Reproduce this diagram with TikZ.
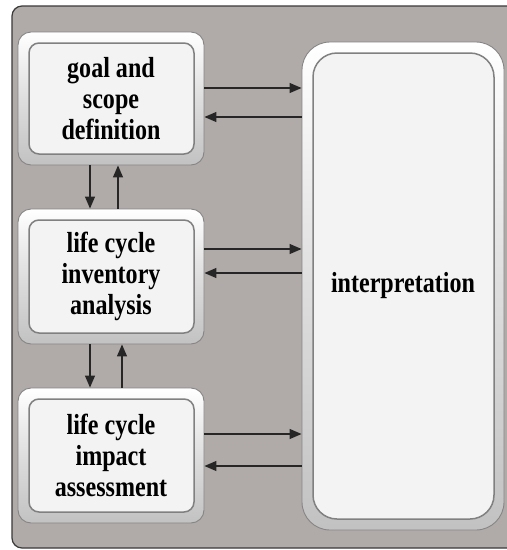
\documentclass[tikz,border=0pt]{standalone}
\usepackage{fontspec}
\setmainfont{Liberation Serif}
\newfontfamily\labfont[FakeStretch=0.83]{Liberation Serif}
\usetikzlibrary{arrows.meta}
\definecolor{bggray}{HTML}{B0ABA9}
\definecolor{innerwhite}{HTML}{F3F3F3}
\definecolor{framedark}{HTML}{3A3A3A}
\tikzset{
  bgframe/.style={fill=bggray, draw=framedark, line width=1.2pt, rounded corners=10pt},
  stage/.style={rounded corners=13pt, minimum width=186pt, minimum height=134pt,
    inner sep=0pt, top color=white, bottom color=black!24, middle color=black!13,
    draw=black!48, line width=0.9pt, align=center,
    font=\labfont\bfseries\fontsize{29}{31}\selectfont},
  bevel/.style={path picture={
    \draw[rounded corners=#1, fill=innerwhite, draw=black!50, line width=1.5pt]
      ([shift={(11pt,-11pt)}]path picture bounding box.north west) rectangle
      ([shift={(-10pt,11pt)}]path picture bounding box.south east);}},
  arr/.style={line width=1.3pt, draw=black!85, -{Triangle[length=12pt,width=10pt]}}
}
\begin{document}
\begin{tikzpicture}[x=1pt,y=-1pt]
\useasboundingbox (0,0) rectangle (507,550);
\clip (0,0) rectangle (507,550);
\fill[white] (0,0) rectangle (507,550);
\path[bgframe] (12,6) rectangle (530,548);

\node[stage, bevel=10pt, minimum height=133pt] (goal) at (111,98.5) {goal and\\scope\\definition};
\node[stage, bevel=10pt, minimum height=135pt] (lci) at (111,276.5) {life cycle\\inventory\\analysis};
\node[stage, bevel=10pt, minimum height=135pt] (lcia) at (111,455.5) {life cycle\\impact\\assessment};
\node[stage, bevel=24pt, rounded corners=28pt, minimum width=202pt, minimum height=488pt] (interp) at (403,286) {interpretation};

\draw[arr] (goal.east |- 0,88) -- (interp.west |- 0,88);
\draw[arr] (interp.west |- 0,117) -- (goal.east |- 0,117);
\draw[arr] (lci.east |- 0,249) -- (interp.west |- 0,249);
\draw[arr] (interp.west |- 0,273) -- (lci.east |- 0,273);
\draw[arr] (lcia.east |- 0,434) -- (interp.west |- 0,434);
\draw[arr] (interp.west |- 0,466) -- (lcia.east |- 0,466);

\draw[arr] (goal.south -| 90,0) -- (lci.north -| 90,0);
\draw[arr] (lci.north -| 118,0) -- (goal.south -| 118,0);
\draw[arr] (lci.south -| 90,0) -- (lcia.north -| 90,0);
\draw[arr] (lcia.north -| 122,0) -- (lci.south -| 122,0);
\end{tikzpicture}
\end{document}
